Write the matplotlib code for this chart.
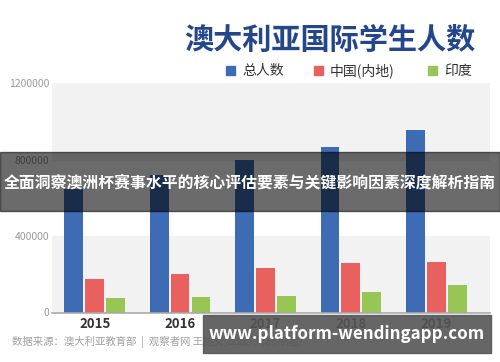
import matplotlib
matplotlib.use("Agg")
import matplotlib.pyplot as plt
from matplotlib.patches import Rectangle
import numpy as np

plt.rcParams['font.family'] = ['Noto Sans CJK SC', 'DejaVu Sans']

years = ['2015', '2016', '2017', '2018', '2019']
total = [645000, 718000, 800000, 866000, 955000]
china = [174000, 200000, 231000, 257000, 262000]
india = [77000, 79000, 88000, 109000, 145000]
series_names = ['总人数', '中国(内地)', '印度']
colors = ['#3d6cb4', '#e9615e', '#97c654']

W, H = 500, 362
fig = plt.figure(figsize=(5, 3.62), dpi=100)

ax = fig.add_axes([52 / W, 1 - 312.5 / H, 438 / W, (312.5 - 83) / H])
ax.set_ylim(0, 1200000)
ax.set_xlim(-0.5, 4.63)
ax.axhspan(0, 400000, color='#f2f2f2', zorder=0)
ax.axhspan(800000, 1200000, color='#f2f2f2', zorder=0)

x = np.arange(len(years))
w = 0.22
off = 0.245
for i, (vals, c) in enumerate(zip([total, china, india], colors)):
    ax.bar(x + (i - 1) * off, vals, width=w, color=c, zorder=2)

for s in ['top', 'right', 'left']:
    ax.spines[s].set_visible(False)
ax.spines['bottom'].set_color('#aaaaaa')
ax.spines['bottom'].set_linewidth(1.2)
ax.set_yticks([0, 400000, 800000, 1200000])
ax.set_yticklabels(['0', '400000', '800000', '1200000'])
ax.tick_params(axis='y', length=0, labelsize=7.5, labelcolor='#9a9a9a', pad=2)
ax.set_xticks(x)
ax.set_xticklabels(years, fontweight='bold', fontsize=9.5, color='#333333')
ax.tick_params(axis='x', length=0, pad=3)

# title and legend
fig.text(330 / W, 1 - 40 / H, '澳大利亚国际学生人数', ha='center', va='center',
         fontsize=21, fontweight='heavy', color='#24478c')
leg_x = [226, 314, 428]
for name, c, lx in zip(series_names, colors, leg_x):
    fig.add_artist(Rectangle((lx / W, 1 - 75 / H), 9 / W, 9 / H,
                             transform=fig.transFigure, color=c))
    fig.text((lx + 16) / W, 1 - 70.5 / H, name, ha='left', va='center',
             fontsize=10, color='#333333')

fig.text(12 / W, 1 - 342 / H, '数据来源：澳大利亚教育部  |  观察者网 王恺文(正端) 刘凯(制图)',
         ha='left', va='center', fontsize=7.5, color='#a0a0a0')

# overlay banners
fig.add_artist(Rectangle((0, 1 - 211 / H), 1, 59 / H, transform=fig.transFigure,
                         color='black', alpha=0.58, zorder=10))
fig.text(250 / W, 1 - 182 / H, '全面洞察澳洲杯赛事水平的核心评估要素与关键影响因素深度解析指南',
         ha='center', va='center', fontsize=11.4, fontweight='bold', color='white', zorder=11)
fig.add_artist(Rectangle((203 / W, 1 - 353 / H), 288 / W, 38 / H, transform=fig.transFigure,
                         color='#555555', alpha=0.9, zorder=10))
fig.text(347 / W, 1 - 334 / H, 'www.platform-wendingapp.com', ha='center', va='center',
         fontsize=12.2, fontweight='bold', color='white', zorder=11)

fig.savefig('out.png', dpi=100)
